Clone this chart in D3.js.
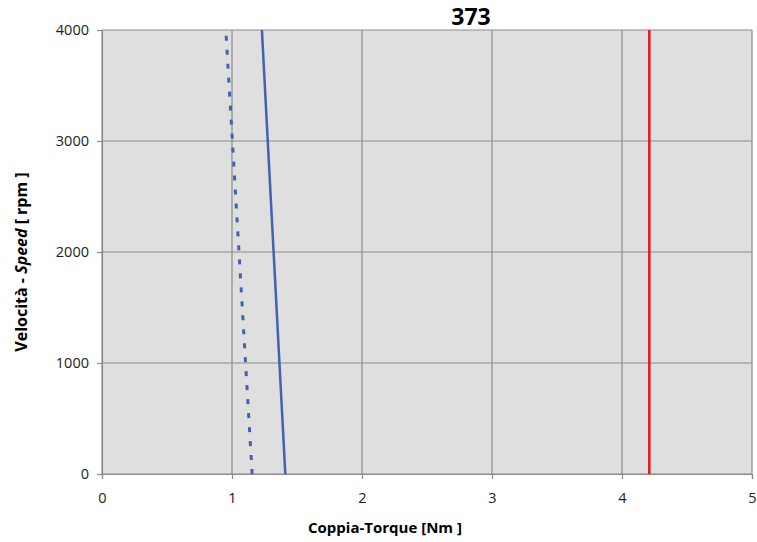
<!DOCTYPE html>
<html>
<head>
<meta charset="utf-8">
<script src="https://cdn.jsdelivr.net/npm/d3@7"></script>
<style>
  body { margin: 0; background: #fff; }
  text { font-family: "Open Sans", "Liberation Sans", sans-serif; }
</style>
</head>
<body>
<svg width="757" height="542"></svg>
<script>
// curve data: torque (Nm) vs speed (rpm)
var solidTorque = [1.41, 1.23];
var solidSpeed = [0, 4000];
var dashTorque = [1.155, 0.955];
var dashSpeed = [0, 3950];
var redTorque = [4.21, 4.21];
var redSpeed = [0, 4000];
var xTicks = [0, 1, 2, 3, 4, 5];
var yTicks = [0, 1000, 2000, 3000, 4000];

var svg = d3.select("svg"),
    margin = { left: 102, top: 30, right: 5, bottom: 68 },
    width = +svg.attr("width") - margin.left - margin.right,
    height = +svg.attr("height") - margin.top - margin.bottom;

var x = d3.scaleLinear().domain([0, 5]).range([0, width]);
var y = d3.scaleLinear().domain([0, 4000]).range([height, 0]);

var g = svg.append("g").attr("transform", "translate(" + margin.left + "," + margin.top + ")");

// plot background
g.append("rect")
    .attr("width", width).attr("height", height)
    .attr("fill", "#e0dfdf");

// grid
g.selectAll(".vgrid").data(xTicks).enter().append("line")
    .attr("x1", function(d) { return x(d); }).attr("x2", function(d) { return x(d); })
    .attr("y1", 0).attr("y2", height)
    .attr("stroke", "#8c8c8c").attr("stroke-width", 1.2);
g.selectAll(".hgrid").data(yTicks).enter().append("line")
    .attr("x1", 0).attr("x2", width)
    .attr("y1", function(d) { return y(d); }).attr("y2", function(d) { return y(d); })
    .attr("stroke", "#8c8c8c").attr("stroke-width", 1.2);

// axes
var xAxis = g.append("g")
    .attr("transform", "translate(0," + height + ")")
    .call(d3.axisBottom(x).tickValues(xTicks).tickSize(5).tickPadding(14).tickFormat(d3.format("d")));
var yAxis = g.append("g")
    .call(d3.axisLeft(y).tickValues(yTicks).tickSize(5).tickPadding(8).tickFormat(d3.format("d")));
[xAxis, yAxis].forEach(function(a) {
    a.select(".domain").attr("stroke", "#8c8c8c").attr("stroke-width", 1.2);
    a.selectAll(".tick line").attr("stroke", "#8c8c8c").attr("stroke-width", 1.2);
    a.selectAll("text").attr("font-size", 14.5).attr("fill", "#222")
        .attr("font-family", "'Open Sans', 'Liberation Sans', sans-serif");
});

var line = d3.line().x(function(d) { return x(d[0]); }).y(function(d) { return y(d[1]); });

g.append("path")
    .datum(d3.zip(dashTorque, dashSpeed))
    .attr("d", line).attr("fill", "none")
    .attr("stroke", "#4461b0").attr("stroke-width", 3)
    .attr("stroke-dasharray", "5,9");
g.append("path")
    .datum(d3.zip(solidTorque, solidSpeed))
    .attr("d", line).attr("fill", "none")
    .attr("stroke", "#4461b0").attr("stroke-width", 2.5);
g.append("path")
    .datum(d3.zip(redTorque, redSpeed))
    .attr("d", line).attr("fill", "none")
    .attr("stroke", "#e8141e").attr("stroke-width", 2.5);

// title
svg.append("text")
    .attr("x", 471).attr("y", 25)
    .attr("text-anchor", "middle")
    .attr("font-size", 23).attr("font-weight", "bold")
    .text("373");

// axis titles
svg.append("text")
    .attr("x", 385).attr("y", 533)
    .attr("text-anchor", "middle")
    .attr("font-size", 15).attr("font-weight", "bold")
    .text("Coppia-Torque [Nm ]");

var yt = svg.append("text")
    .attr("transform", "translate(27,262) rotate(-90)")
    .attr("text-anchor", "middle")
    .attr("font-size", 16).attr("font-weight", "bold");
yt.append("tspan").text("Velocità - ");
yt.append("tspan").attr("font-style", "italic").text("Speed");
yt.append("tspan").text(" [ rpm ]");
</script>
</body>
</html>
